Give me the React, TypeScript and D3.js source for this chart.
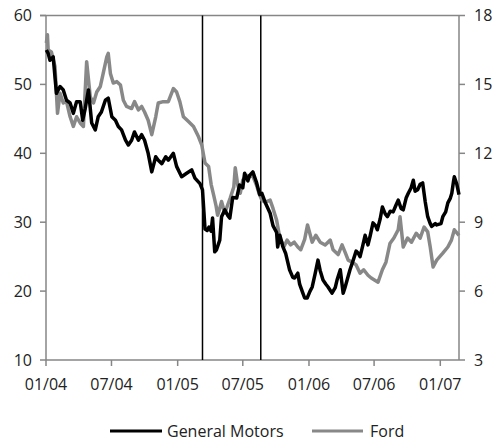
import React from "react";
import * as d3 from "d3";

const gmDates = ["2004-01-02","2004-01-07","2004-01-12","2004-01-21","2004-01-30","2004-02-09","2004-02-18","2004-02-27","2004-03-08","2004-03-17","2004-03-26","2004-04-05","2004-04-12","2004-04-19","2004-04-28","2004-05-07","2004-05-17","2004-05-25","2004-06-03","2004-06-14","2004-06-22","2004-07-02","2004-07-12","2004-07-20","2004-07-29","2004-08-09","2004-08-17","2004-08-26","2004-09-03","2004-09-14","2004-09-23","2004-10-01","2004-10-11","2004-10-21","2004-11-01","2004-11-08","2004-11-18","2004-11-29","2004-12-06","2004-12-20","2004-12-29","2005-01-12","2005-01-26","2005-02-09","2005-02-18","2005-03-04","2005-03-11","2005-03-18","2005-03-24","2005-03-29","2005-04-04","2005-04-08","2005-04-14","2005-04-19","2005-04-28","2005-05-03","2005-05-12","2005-05-20","2005-05-26","2005-06-03","2005-06-14","2005-06-22","2005-07-01","2005-07-06","2005-07-15","2005-07-20","2005-07-29","2005-08-08","2005-08-12","2005-08-17","2005-08-23","2005-09-01","2005-09-09","2005-09-15","2005-09-23","2005-10-03","2005-10-06","2005-10-12","2005-10-20","2005-10-28","2005-11-08","2005-11-17","2005-11-22","2005-12-01","2005-12-06","2005-12-15","2005-12-20","2005-12-27","2006-01-04","2006-01-10","2006-01-18","2006-01-26","2006-02-01","2006-02-09","2006-02-17","2006-02-23","2006-03-06","2006-03-15","2006-03-20","2006-03-29","2006-04-06","2006-04-11","2006-04-17","2006-04-25","2006-05-04","2006-05-12","2006-05-18","2006-05-23","2006-05-30","2006-06-06","2006-06-14","2006-06-20","2006-06-28","2006-07-05","2006-07-10","2006-07-18","2006-07-24","2006-08-01","2006-08-07","2006-08-15","2006-08-23","2006-08-31","2006-09-06","2006-09-14","2006-09-20","2006-09-28","2006-10-04","2006-10-12","2006-10-18","2006-10-23","2006-10-30","2006-11-06","2006-11-13","2006-11-20","2006-11-27","2006-12-04","2006-12-08","2006-12-18","2006-12-22","2007-01-03","2007-01-08","2007-01-16","2007-01-22","2007-01-29","2007-02-02","2007-02-07","2007-02-09","2007-02-16","2007-02-22"];
const gmValues = [55.0,54.5,53.5,54.0,48.7,49.7,49.2,47.7,47.3,45.8,47.5,47.5,44.8,46.5,49.2,44.4,43.4,45.3,46.0,47.7,48.0,45.3,44.8,43.9,43.4,41.9,41.2,41.9,43.1,41.9,42.7,41.9,40.0,37.3,39.5,39.0,38.5,39.5,39.0,40.0,38.1,36.6,37.1,37.6,36.4,35.6,34.7,29.0,28.8,29.3,28.7,30.6,25.7,26.0,27.4,30.8,31.8,31.0,30.6,33.6,33.5,35.4,35.0,37.1,36.0,36.8,37.3,35.8,35.0,34.0,34.2,32.9,32.0,31.3,29.5,28.5,26.4,28.1,26.5,25.5,23.1,22.0,21.9,22.6,21.0,19.7,19.0,19.0,20.0,20.6,22.5,24.5,23.0,21.6,21.0,20.6,19.7,20.5,21.6,23.1,19.7,20.5,21.6,23.1,24.5,25.8,25.5,25.0,26.5,28.1,26.7,28.0,29.9,29.5,28.9,30.5,32.2,31.2,30.8,31.6,31.5,32.5,33.2,32.0,31.8,33.5,34.2,35.0,36.1,34.5,34.7,35.5,35.7,33.0,30.8,29.8,29.4,29.8,29.6,29.8,30.8,31.5,32.8,33.5,34.2,36.0,36.6,35.5,34.0];

const fordDates = ["2004-01-02","2004-01-05","2004-01-07","2004-01-16","2004-01-26","2004-02-02","2004-02-09","2004-02-18","2004-02-27","2004-03-08","2004-03-17","2004-03-26","2004-04-05","2004-04-14","2004-04-23","2004-05-03","2004-05-12","2004-05-21","2004-05-31","2004-06-08","2004-06-18","2004-06-22","2004-06-28","2004-07-06","2004-07-16","2004-07-26","2004-08-03","2004-08-12","2004-08-26","2004-09-03","2004-09-14","2004-09-23","2004-10-01","2004-10-11","2004-10-21","2004-11-01","2004-11-08","2004-11-22","2004-12-06","2004-12-20","2004-12-29","2005-01-07","2005-01-17","2005-01-31","2005-02-14","2005-02-28","2005-03-09","2005-03-18","2005-03-28","2005-04-04","2005-04-12","2005-04-18","2005-04-22","2005-04-28","2005-05-03","2005-05-12","2005-05-20","2005-05-27","2005-06-06","2005-06-10","2005-06-17","2005-06-24","2005-07-01","2005-07-12","2005-07-20","2005-07-28","2005-08-08","2005-08-15","2005-08-23","2005-09-02","2005-09-15","2005-09-23","2005-10-03","2005-10-12","2005-10-24","2005-11-01","2005-11-11","2005-11-21","2005-12-01","2005-12-09","2005-12-20","2005-12-28","2006-01-10","2006-01-20","2006-02-01","2006-02-15","2006-03-01","2006-03-09","2006-03-23","2006-04-03","2006-04-11","2006-04-20","2006-05-01","2006-05-12","2006-05-23","2006-06-02","2006-06-14","2006-06-23","2006-07-12","2006-07-24","2006-08-03","2006-08-14","2006-08-25","2006-09-06","2006-09-11","2006-09-20","2006-10-02","2006-10-13","2006-10-26","2006-11-06","2006-11-17","2006-11-27","2006-12-04","2006-12-12","2006-12-22","2007-01-08","2007-01-22","2007-02-01","2007-02-09","2007-02-22"];
const fordValues = [16.8,17.16,16.5,16.41,15.78,13.74,14.61,14.19,14.25,13.59,13.17,13.59,13.32,13.17,15.99,14.46,14.19,14.67,14.91,15.48,16.2,16.35,15.48,15.06,15.12,14.97,14.31,14.04,13.95,14.25,13.89,14.04,13.8,13.44,12.81,13.59,14.19,14.25,14.25,14.82,14.67,14.25,13.59,13.38,13.17,12.72,12.36,11.58,11.43,10.65,10.11,9.69,9.3,9.6,9.9,9.39,9.75,10.05,10.53,11.37,10.62,10.26,10.83,11.04,10.98,11.04,10.62,10.26,9.96,9.87,9.96,9.6,9.09,8.31,7.95,8.22,8.01,8.13,7.92,7.8,8.25,8.88,8.13,8.43,8.13,8.01,8.22,7.8,7.59,8.01,7.71,7.35,7.26,7.14,6.78,6.93,6.69,6.57,6.39,6.93,7.26,8.07,8.31,8.67,9.24,7.92,8.31,8.13,8.52,8.31,8.79,8.58,7.92,7.05,7.35,7.65,7.92,8.22,8.67,8.43];

const eventDates = ["2005-03-11", "2005-08-20"];
const leftTicks = [10, 20, 30, 40, 50, 60];
const rightTicks = [3, 6, 9, 12, 15, 18];
const seriesNames = ["General Motors", "Ford"];
const xStart = "2004-01-01";
const xEnd = "2007-02-22";

const W = 497, H = 442;
const M = { left: 46, right: 459, top: 15.5, bottom: 360 };
const FONT = "'Open Sans', sans-serif";
const AXIS = "#868686";
const TEXT = "#222";
const GRAY = "#888888";

export default function App() {
  const parse = d3.timeParse("%Y-%m-%d");
  const x = d3.scaleTime().domain([parse(xStart)!, parse(xEnd)!]).range([M.left, M.right]);
  const yL = d3.scaleLinear().domain([10, 60]).range([M.bottom, M.top]);
  const yR = d3.scaleLinear().domain([3, 18]).range([M.bottom, M.top]);
  const gm = gmDates.map((d, i) => ({ d: parse(d)!, v: gmValues[i] }));
  const ford = fordDates.map((d, i) => ({ d: parse(d)!, v: fordValues[i] }));
  const gmLine = d3.line<{ d: Date; v: number }>().x(p => x(p.d)).y(p => yL(p.v));
  const fordLine = d3.line<{ d: Date; v: number }>().x(p => x(p.d)).y(p => yR(p.v));
  const xTicks = d3.timeMonth.every(6)!.range(parse(xStart)!, parse(xEnd)!);
  const fmt = d3.timeFormat("%m/%y");

  return (
    <svg width={W} height={H} style={{ position: "absolute", left: 0, top: 0, background: "#fff" }} fontFamily={FONT}>
      <rect x={0} y={0} width={W} height={H} fill="#fff" />
      <line x1={M.left - 6} x2={M.right} y1={M.top} y2={M.top} stroke={AXIS} strokeWidth={1.5} />
      <line x1={M.left} x2={M.right} y1={M.bottom} y2={M.bottom} stroke={AXIS} strokeWidth={1.5} />
      <line x1={M.left} x2={M.left} y1={M.top} y2={M.bottom} stroke={AXIS} strokeWidth={1.5} />
      <line x1={M.right} x2={M.right} y1={M.top} y2={M.bottom} stroke={AXIS} strokeWidth={1.5} />
      {leftTicks.map(t => (
        <g key={"l" + t}>
          <line x1={M.left - 6} x2={M.left} y1={yL(t)} y2={yL(t)} stroke={AXIS} strokeWidth={1.5} />
          <text x={32} y={yL(t)} dy="0.36em" textAnchor="end" fontSize={16} fill={TEXT}>{t}</text>
        </g>
      ))}
      {rightTicks.map(t => (
        <g key={"r" + t}>
          <line x1={M.right} x2={M.right + 6} y1={yR(t)} y2={yR(t)} stroke={AXIS} strokeWidth={1.5} />
          <text x={474} y={yR(t)} dy="0.36em" textAnchor="start" fontSize={16} fill={TEXT}>{t}</text>
        </g>
      ))}
      {xTicks.map(t => (
        <g key={"x" + t.getTime()}>
          <line x1={x(t)} x2={x(t)} y1={M.bottom} y2={M.bottom + 6} stroke={AXIS} strokeWidth={1.5} />
          <text x={x(t)} y={390} textAnchor="middle" fontSize={16} fill={TEXT}>{fmt(t)}</text>
        </g>
      ))}
      {eventDates.map(e => (
        <line key={e} x1={x(parse(e)!)} x2={x(parse(e)!)} y1={M.top} y2={M.bottom} stroke="#000" strokeWidth={1.5} />
      ))}
      <path d={fordLine(ford)!} fill="none" stroke={GRAY} strokeWidth={3.5} strokeLinejoin="round" />
      <path d={gmLine(gm)!} fill="none" stroke="#000" strokeWidth={3.5} strokeLinejoin="round" />
      <g>
        <line x1={110} x2={162} y1={431} y2={431} stroke="#000" strokeWidth={3} />
        <text x={167} y={431} dy="0.36em" fontSize={16} fill={TEXT}>{seriesNames[0]}</text>
        <line x1={312} x2={363} y1={431} y2={431} stroke={GRAY} strokeWidth={3} />
        <text x={370} y={431} dy="0.36em" fontSize={16} fill={TEXT}>{seriesNames[1]}</text>
      </g>
    </svg>
  );
}
